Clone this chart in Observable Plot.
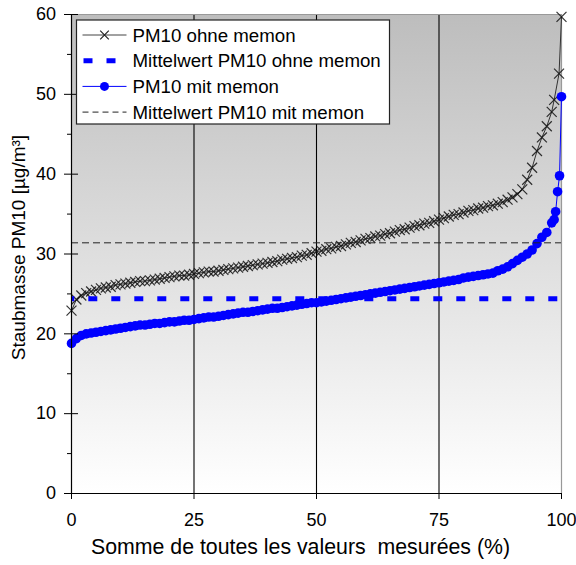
<!DOCTYPE html>
<html><head><meta charset="utf-8">
<script src="https://cdn.jsdelivr.net/npm/d3@7"></script>
<script src="https://cdn.jsdelivr.net/npm/@observablehq/plot@0.6"></script>
<style>body{margin:0;background:#fff}</style>
</head><body><div id="chart"></div>
<script>
const pctOhne = [0,1,2,3,4,5,6,7,8,9,10,11,12,13,14,15,16,17,18,19,20,21,22,23,24,25,26,27,28,29,30,31,32,33,34,35,36,37,38,39,40,41,42,43,44,45,46,47,48,49,50,51,52,53,54,55,56,57,58,59,60,61,62,63,64,65,66,67,68,69,70,71,72,73,74,75,76,77,78,79,80,81,82,83,84,85,86,87,88,89,90,91,92,93,94,95,96,97,98,98.5,99.5,100];
const valOhne = [22.9,24.3,24.8,25.1,25.3,25.5,25.7,25.8,25.9,26.1,26.2,26.3,26.4,26.5,26.6,26.6,26.7,26.8,26.9,27.0,27.1,27.2,27.3,27.3,27.4,27.5,27.6,27.7,27.8,27.8,27.9,28.0,28.1,28.2,28.3,28.4,28.5,28.6,28.7,28.8,28.9,29.0,29.1,29.3,29.4,29.5,29.6,29.8,29.9,30.1,30.3,30.4,30.6,30.7,30.9,31.0,31.2,31.4,31.5,31.7,31.9,32.0,32.2,32.3,32.5,32.6,32.8,33.0,33.1,33.3,33.5,33.6,33.8,33.9,34.1,34.3,34.5,34.7,34.9,35.0,35.2,35.4,35.5,35.7,35.8,36.0,36.1,36.3,36.5,36.8,37.1,37.5,38.1,39.3,40.8,42.9,44.6,46.0,47.8,49.3,52.6,59.7];
const pctMit = [0,1,2,3,4,5,6,7,8,9,10,11,12,13,14,15,16,17,18,19,20,21,22,23,24,25,26,27,28,29,30,31,32,33,34,35,36,37,38,39,40,41,42,43,44,45,46,47,48,49,50,51,52,53,54,55,56,57,58,59,60,61,62,63,64,65,66,67,68,69,70,71,72,73,74,75,76,77,78,79,80,81,82,83,84,85,86,87,88,89,90,91,92,93,94,95,96,97,98,98.5,98.8,99.2,99.6,100];
const valMit = [18.8,19.4,19.8,20.0,20.1,20.2,20.3,20.4,20.5,20.6,20.7,20.8,20.9,21.0,21.1,21.1,21.2,21.3,21.3,21.4,21.5,21.5,21.6,21.7,21.7,21.8,21.9,22.0,22.1,22.1,22.2,22.3,22.4,22.5,22.6,22.7,22.7,22.8,22.9,23.0,23.1,23.2,23.2,23.3,23.4,23.5,23.6,23.7,23.8,23.9,23.9,24.0,24.1,24.2,24.3,24.4,24.5,24.6,24.7,24.8,24.9,25.0,25.1,25.2,25.3,25.4,25.5,25.6,25.7,25.8,25.9,26.0,26.1,26.2,26.3,26.4,26.5,26.6,26.7,26.8,27.0,27.1,27.2,27.3,27.4,27.5,27.6,27.9,28.1,28.4,28.8,29.2,29.6,30.0,30.5,31.3,32.1,32.7,33.9,34.3,35.3,37.8,39.8,49.7];
const meanOhne = 31.4;
const meanMit = 24.4;
const xTicks = [0,25,50,75,100];
const yTicks = [0,10,20,30,40,50,60];
const yMinor = [5,15,25,35,45,55];
const gridX = [25,50,75];
const legendLabels = ["PM10 ohne memon","Mittelwert PM10 ohne memon","PM10 mit memon","Mittelwert PM10 mit memon"];
const xTitle = "Somme de toutes les valeurs\u00a0 mesurées (%)";
const yTitle = "Staubmasse PM10 [µg/m³]";

const FONT = "'Liberation Sans', Arial, sans-serif";
const BLUE = "#0000ff";
const ohne = pctOhne.map((p, i) => ({p, v: valOhne[i]}));
const mit = pctMit.map((p, i) => ({p, v: valMit[i]}));

function background(index, scales, values, dims) {
  const g = d3.create("svg:g");
  const grad = g.append("defs").append("linearGradient").attr("id", "bgGrad")
    .attr("x1", 0).attr("y1", 0).attr("x2", 0).attr("y2", 1);
  grad.append("stop").attr("offset", "0%").attr("stop-color", "#bdbdbd");
  grad.append("stop").attr("offset", "100%").attr("stop-color", "#ffffff");
  const x0 = scales.x(0), x1 = scales.x(100), y0 = scales.y(60), y1 = scales.y(0);
  g.append("rect").attr("x", x0).attr("y", y0).attr("width", x1 - x0).attr("height", y1 - y0)
    .attr("fill", "url(#bgGrad)");
  return g.node();
}

function legend(index, scales, values, dims) {
  const g = d3.create("svg:g").attr("font-family", FONT).attr("font-size", 18.7).attr("text-anchor", "start");
  const bx = dims.marginLeft + 5.5, by = dims.marginTop + 6, bw = 313, bh = 104;
  g.append("rect").attr("x", bx).attr("y", by).attr("width", bw).attr("height", bh)
    .attr("fill", "white").attr("stroke", "#222").attr("stroke-width", 1.2);
  const sx0 = bx + 6, sx1 = bx + 50, mx = bx + 28, tx = bx + 56;
  legendLabels.forEach((lab, i) => {
    const ry = by + 15 + i * 25.7;
    const line = g.append("line").attr("x1", sx0).attr("x2", sx1).attr("y1", ry).attr("y2", ry);
    if (i === 0) {
      line.attr("stroke", "#444").attr("stroke-width", 1);
      g.append("path").attr("d", d3.symbol(d3.symbolTimes, 50)()).attr("transform", `translate(${mx},${ry})`)
        .attr("stroke", "#222").attr("stroke-width", 1.2).attr("fill", "none");
    } else if (i === 1) {
      line.attr("x1", sx0 + 1).attr("stroke", BLUE).attr("stroke-width", 5).attr("stroke-dasharray", "9,14");
    } else if (i === 2) {
      line.attr("stroke", BLUE).attr("stroke-width", 1);
      g.append("circle").attr("cx", mx).attr("cy", ry).attr("r", 4.5).attr("fill", BLUE);
    } else {
      line.attr("stroke", "#222").attr("stroke-width", 1).attr("stroke-dasharray", "6,4");
    }
    g.append("text").attr("x", tx).attr("y", ry).attr("dy", "0.35em").attr("fill", "black")
      .attr("text-anchor", "start").text(lab);
  });
  return g.node();
}

const plot = Plot.plot({
  width: 576, height: 565,
  marginLeft: 71, marginRight: 15, marginTop: 14, marginBottom: 72,
  style: {fontFamily: FONT, fontSize: "18px", color: "black", background: "white", overflow: "visible"},
  x: {domain: [0, 100]},
  y: {domain: [0, 60]},
  marks: [
    background,
    Plot.ruleX(gridX, {stroke: "black", strokeWidth: 1.1}),
    Plot.ruleX([100], {stroke: "#999", strokeWidth: 1.2}),
    Plot.ruleY([60], {stroke: "#999", strokeWidth: 1.2}),
    Plot.line(ohne, {x: "p", y: "v", stroke: "#333", strokeWidth: 1}),
    Plot.dot(ohne, {x: "p", y: "v", symbol: "times", r: 4.6, stroke: "#111", strokeWidth: 1.2, strokeOpacity: 0.85}),
    Plot.line(mit, {x: "p", y: "v", stroke: BLUE, strokeWidth: 1}),
    Plot.dot(mit, {x: "p", y: "v", r: 4.8, fill: BLUE, stroke: "none"}),
    Plot.ruleY([meanOhne], {stroke: "#222", strokeWidth: 1, strokeDasharray: "7,4"}),
    Plot.ruleY([meanMit], {stroke: BLUE, strokeWidth: 5, strokeDasharray: "9,14", strokeDashoffset: 5.7}),
    Plot.ruleX([0], {stroke: "black", strokeWidth: 1.2}),
    Plot.ruleY([0], {stroke: "black", strokeWidth: 1.2}),
    Plot.axisY({ticks: yTicks, tickSize: 14, dx: 7, tickFormat: () => "", label: null}),
    Plot.axisY({ticks: yMinor, tickSize: 4, tickFormat: () => "", label: null}),
    Plot.axisY({ticks: yTicks, tickSize: 0, tickPadding: 15.5, label: null, fontSize: 18}),
    Plot.axisX({ticks: xTicks, tickSize: 6, tickPadding: 14, label: null, fontSize: 18}),
    Plot.text([yTitle], {frameAnchor: "left", textAnchor: "middle", rotate: -90, dx: -52.5, dy: -6.5, fontSize: 19, fill: "black"}),
    Plot.text([xTitle], {frameAnchor: "bottom", textAnchor: "middle", dx: -16, dy: 60, fontSize: 21.3, fill: "black"}),
    legend
  ]
});
document.getElementById("chart").append(plot);
</script>
</body></html>
